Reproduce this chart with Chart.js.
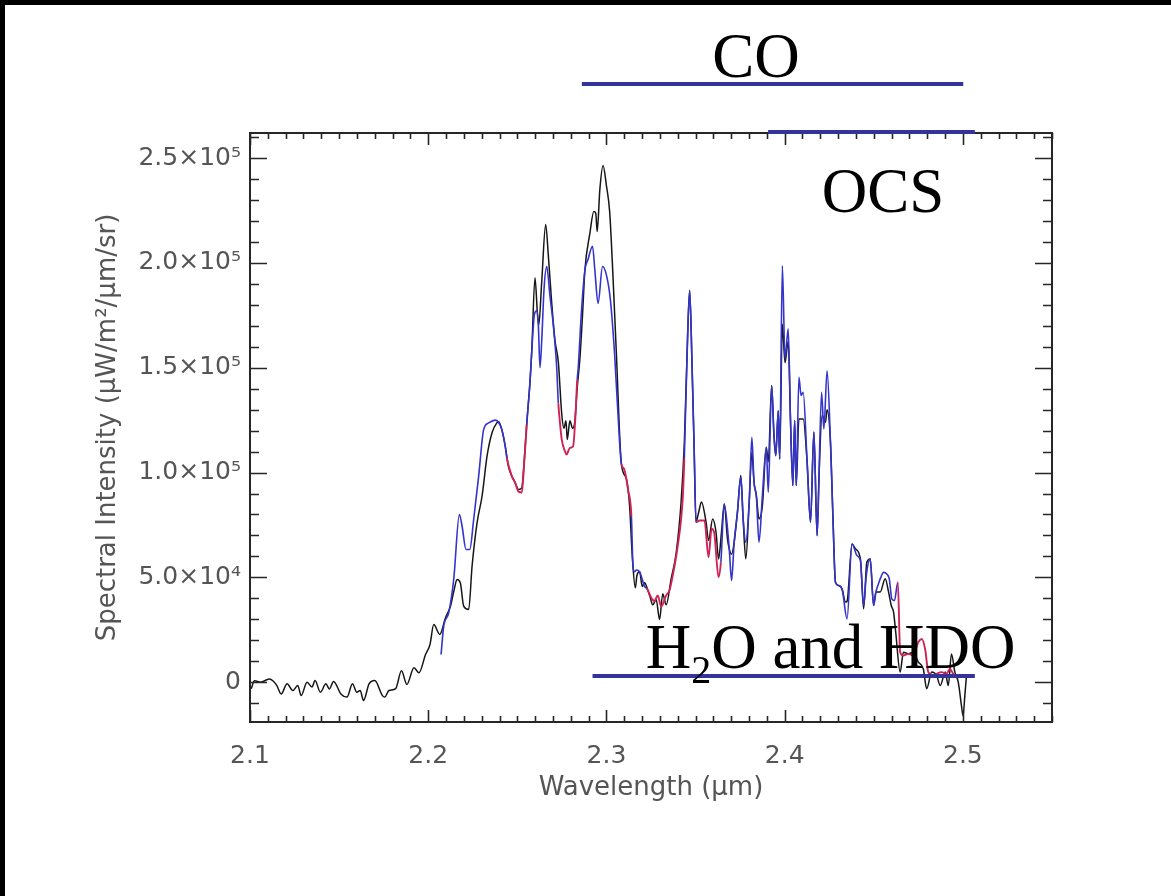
<!DOCTYPE html>
<html>
<head>
<meta charset="utf-8">
<script src="https://cdn.jsdelivr.net/npm/chart.js@4.4.1/dist/chart.umd.min.js"></script>
<style>
  html, body { margin: 0; padding: 0; background: #ffffff; }
  #wrap { width: 1171px; height: 896px; position: relative; }
</style>
</head>
<body>
<div id="wrap"><canvas id="spectrum" width="1171" height="896"></canvas></div>
<script>
// Observed spectrum: wavelength (µm) and spectral intensity (µW/m²/µm/sr)
const obsWavelength = [
  2.1007, 2.1025, 2.1060, 2.1082, 2.1110, 2.1128, 2.1150, 2.1175, 2.1208, 2.1240,
  2.1268, 2.1287, 2.1320, 2.1348, 2.1365, 2.1395, 2.1426, 2.1445, 2.1469, 2.1510,
  2.1544, 2.1575, 2.1599, 2.1618, 2.1637, 2.1668, 2.1700, 2.1743, 2.1756, 2.1780,
  2.1817, 2.1850, 2.1880, 2.1920, 2.1948, 2.1985, 2.2010, 2.2031, 2.2065, 2.2097,
  2.2125, 2.2145, 2.2162, 2.2180, 2.2199, 2.2227, 2.2246, 2.2274, 2.2302, 2.2330,
  2.2358, 2.2385, 2.2395, 2.2413, 2.2432, 2.2450, 2.2469, 2.2488, 2.2506, 2.2525,
  2.2538, 2.2553, 2.2572, 2.2581, 2.2599, 2.2613, 2.2620, 2.2637, 2.2659, 2.2674,
  2.2693, 2.2711, 2.2730, 2.2749, 2.2761, 2.2773, 2.2780, 2.2795, 2.2810, 2.2823,
  2.2836, 2.2851, 2.2866, 2.2879, 2.2907, 2.2929, 2.2940, 2.2948, 2.2963, 2.2981,
  2.3000, 2.3018, 2.3037, 2.3056, 2.3084, 2.3112, 2.3130, 2.3145, 2.3162, 2.3171,
  2.3186, 2.3201, 2.3214, 2.3232, 2.3245, 2.3260, 2.3279, 2.3298, 2.3316, 2.3335,
  2.3363, 2.3391, 2.3419, 2.3437, 2.3456, 2.3467, 2.3480, 2.3492, 2.3502, 2.3518,
  2.3533, 2.3559, 2.3573, 2.3596, 2.3615, 2.3629, 2.3645, 2.3661, 2.3679, 2.3689,
  2.3702, 2.3717, 2.3735, 2.3754, 2.3767, 2.3782, 2.3801, 2.3816, 2.3828, 2.3841,
  2.3856, 2.3875, 2.3897, 2.3908, 2.3927, 2.3940, 2.3950, 2.3964, 2.3972, 2.3987,
  2.4002, 2.4020, 2.4033, 2.4046, 2.4056, 2.4065, 2.4080, 2.4104, 2.4126, 2.4145,
  2.4164, 2.4182, 2.4192, 2.4210, 2.4229, 2.4238, 2.4257, 2.4270, 2.4285, 2.4303,
  2.4322, 2.4341, 2.4350, 2.4378, 2.4397, 2.4425, 2.4443, 2.4461, 2.4480, 2.4499,
  2.4512, 2.4536, 2.4564, 2.4583, 2.4598, 2.4611, 2.4623, 2.4648, 2.4666, 2.4694,
  2.4722, 2.4750, 2.4778, 2.4797, 2.4825, 2.4853, 2.4873, 2.4901, 2.4918, 2.4936,
  2.4955, 2.4974, 2.4992, 2.5001, 2.5011, 2.5020
];
const obsIntensity = [
  -3100, 700, 0, 700, 1500, 700, -1500, -5600, -800, -4000,
  -1600, -6400, 0, -2300, 800, -4800, -800, -3200, 300, -5600,
  -7100, -800, -4800, -4000, -8700, -800, 800, -6400, -7100, -4000,
  -3100, 5400, -1100, 6900, 4500, 13200, 18000, 27500, 22800, 30700,
  36300, 44000, 49000, 47400, 36300, 34700, 55300, 76000, 88700, 107800,
  119000, 123700, 124300, 120500, 112600, 103000, 98300, 95100, 91900, 92700,
  104700, 123700, 144400, 158000, 193000, 175500, 170200, 191200, 218400, 203500,
  180700, 163200, 152700, 128100, 121100, 124700, 115800, 124700, 121100, 124700,
  140400, 154400, 175500, 196500, 214100, 224500, 223700, 215000, 235100, 246500,
  236800, 224500, 193000, 156200, 104000, 97000, 84000, 60000, 45000, 50900,
  52700, 45700, 47400, 43900, 40600, 36900, 39500, 29900, 42200, 36900,
  49300, 61500, 86100, 114100, 166700, 186900, 152400, 111800, 76300, 81300,
  86000, 76300, 67600, 77900, 71500, 58800, 71100, 85000, 68400, 63600,
  61000, 67000, 81100, 98600, 77900, 58800, 85900, 109700, 95400, 89000,
  77900, 84200, 112100, 105000, 141500, 117700, 108100, 129500, 106500, 170700,
  152400, 162600, 124000, 93800, 124800, 93800, 125600, 125600, 105000, 76300,
  119300, 69900, 96900, 127200, 124000, 130000, 114500, 81100, 47700, 46100,
  44500, 38200, 38600, 65900, 63600, 58800, 35000, 57200, 58800, 36600,
  43000, 43000, 49300, 43000, 36600, 33400, 23900, 4800, 14300, 13500,
  14300, 9600, 6300, -3100, 4800, 3100, -1600, 4800, -1600, 13500,
  4800, 0, -11200, -16000, -6400, 3100
];

// Model spectrum on its own wavelength grid
const modelWavelength = [
  2.2072, 2.2087, 2.2115, 2.2143, 2.2175, 2.2190, 2.2212, 2.2233, 2.2255, 2.2283,
  2.2311, 2.2339, 2.2376, 2.2394, 2.2413, 2.2432, 2.2441, 2.2469, 2.2488, 2.2506,
  2.2525, 2.2538, 2.2553, 2.2572, 2.2581, 2.2596, 2.2609, 2.2618, 2.2627, 2.2637,
  2.2650, 2.2665, 2.2683, 2.2702, 2.2721, 2.2730, 2.2739, 2.2749, 2.2767, 2.2776,
  2.2795, 2.2813, 2.2827, 2.2836, 2.2841, 2.2860, 2.2879, 2.2897, 2.2922, 2.2935,
  2.2953, 2.2978, 2.3000, 2.3022, 2.3046, 2.3074, 2.3084, 2.3100, 2.3121, 2.3140,
  2.3149, 2.3158, 2.3168, 2.3186, 2.3214, 2.3226, 2.3232, 2.3251, 2.3269, 2.3288,
  2.3307, 2.3335, 2.3354, 2.3372, 2.3400, 2.3428, 2.3437, 2.3456, 2.3467, 2.3480,
  2.3492, 2.3503, 2.3522, 2.3550, 2.3573, 2.3590, 2.3605, 2.3629, 2.3642, 2.3661,
  2.3689, 2.3702, 2.3717, 2.3735, 2.3754, 2.3767, 2.3782, 2.3801, 2.3816, 2.3828,
  2.3841, 2.3856, 2.3875, 2.3897, 2.3908, 2.3927, 2.3940, 2.3950, 2.3964, 2.3972,
  2.3987, 2.4002, 2.4020, 2.4033, 2.4046, 2.4056, 2.4065, 2.4080, 2.4092, 2.4104,
  2.4126, 2.4145, 2.4164, 2.4182, 2.4207, 2.4220, 2.4238, 2.4257, 2.4270, 2.4285,
  2.4303, 2.4322, 2.4350, 2.4378, 2.4406, 2.4425, 2.4443, 2.4458, 2.4480, 2.4499,
  2.4512, 2.4523, 2.4536, 2.4555, 2.4573, 2.4587, 2.4601, 2.4616, 2.4635, 2.4648,
  2.4666, 2.4694, 2.4722, 2.4750, 2.4769, 2.4788, 2.4806, 2.4834, 2.4853, 2.4880,
  2.4908, 2.4927, 2.4946, 2.4974, 2.5011
];
const modelIntensity = [
  13200, 26700, 33100, 49000, 80000, 74400, 63300, 63300, 77600, 98300,
  120500, 123700, 125000, 124000, 120500, 112600, 107000, 98300, 95100, 91000,
  90500, 104000, 123000, 144400, 158000, 175500, 177200, 170200, 150000, 163200,
  187800, 198300, 184300, 170200, 150000, 133000, 124000, 115800, 110200, 108600,
  111800, 112600, 128500, 144400, 149100, 177200, 196500, 201800, 208000, 196500,
  180700, 198300, 194200, 182500, 156200, 114100, 104000, 101500, 91900, 79200,
  55300, 52700, 53500, 52700, 45700, 44700, 43900, 40400, 38700, 41400,
  36100, 41400, 43900, 50900, 65000, 87800, 106700, 166700, 186900, 152400,
  111800, 76300, 77100, 77100, 59600, 73200, 71100, 50100, 57200, 85000,
  63600, 48500, 67000, 81100, 97700, 77900, 66800, 85900, 116800, 95400,
  89000, 66800, 89000, 112100, 90600, 141500, 117700, 108100, 129500, 106500,
  198700, 154200, 168600, 124000, 93800, 124800, 93800, 145500, 136800, 138300,
  105000, 76300, 119300, 69900, 138300, 120800, 148600, 114500, 81100, 47700,
  46100, 44500, 30200, 65900, 60400, 58000, 36600, 50900, 58800, 36600,
  43000, 46100, 49300, 52400, 51600, 49300, 39700, 38900, 47700, 14300,
  12700, 13500, 12700, 19100, 20600, 15800, 4800, 3100, 4000, 4800,
  4000, 6300, 4000, 2300, 3100
];

// Wavelength windows (µm) where the model is shown in red
const fitWindowStart = [2.2441, 2.2730, 2.3084, 2.3226, 2.3503, 2.4635];
const fitWindowEnd   = [2.2553, 2.2836, 2.3140, 2.3437, 2.3642, 2.5011];

// Molecular band labels and the wavelength span each covers
const bandNames = ['CO', 'OCS', 'H₂O and HDO'];
const bandStart = [2.2862, 2.3907, 2.2922];
const bandEnd   = [2.5002, 2.5067, 2.5067];

// Axis ranges, labelled ticks and minor tick spacing
const xMin = 2.1, xMax = 2.55;
const yMin = -19000, yMax = 262000;
const xTickValues = [2.1, 2.2, 2.3, 2.4, 2.5];
const yTickValues = [0, 50000, 100000, 150000, 200000, 250000];
const xMinorStep = 0.01, yMinorStep = 10000;

const SUP = { '0': '⁰', '1': '¹', '2': '²', '3': '³', '4': '⁴', '5': '⁵', '6': '⁶', '7': '⁷', '8': '⁸', '9': '⁹', '-': '⁻' };
function sciLabel(v) {
  if (Math.abs(v) < 1e-9) return '0';
  const e = Math.floor(Math.log10(Math.abs(v)) + 1e-9);
  const m = v / Math.pow(10, e);
  return m.toFixed(1) + '×10' + String(e).split('').map(c => SUP[c]).join('');
}

function inFitWindow(a, b) {
  for (let i = 0; i < fitWindowStart.length; i++) {
    if (a >= fitWindowStart[i] - 1e-6 && b <= fitWindowEnd[i] + 1e-6) return true;
  }
  return false;
}

const AXIS_FONT = 'DejaVu Sans';
const TEXT_GRAY = '#555555';
const BAND_BLUE = '#333399';

// Slide edges, plot frame with inward ticks on all four sides
const framePlugin = {
  id: 'frame',
  beforeDraw(chart) {
    const { ctx, width, height } = chart;
    ctx.save();
    ctx.fillStyle = '#ffffff';
    ctx.fillRect(0, 0, width, height);
    ctx.fillStyle = '#000000';
    ctx.fillRect(0, 0, width, 5);
    ctx.fillRect(0, 0, 5, height);
    ctx.restore();
  },
  afterDraw(chart) {
    const { ctx, chartArea: a, scales: { x, y } } = chart;
    ctx.save();
    ctx.strokeStyle = '#262626';
    ctx.lineWidth = 1.6;
    ctx.beginPath();
    const isMajor = (v, list) => list.some(t => Math.abs(t - v) < 1e-6);
    const nx = Math.round((xMax - xMin) / xMinorStep);
    for (let k = 0; k <= nx; k++) {
      const v = xMin + k * xMinorStep;
      const px = Math.round(x.getPixelForValue(v)) + 0.5;
      const len = isMajor(v, xTickValues) ? 12 : 6;
      ctx.moveTo(px, a.bottom); ctx.lineTo(px, a.bottom - len);
      ctx.moveTo(px, a.top); ctx.lineTo(px, a.top + len);
    }
    const first = Math.ceil(yMin / yMinorStep) * yMinorStep;
    for (let v = first; v <= yMax; v += yMinorStep) {
      const py = Math.round(y.getPixelForValue(v)) + 0.5;
      const len = isMajor(v, yTickValues) ? 17 : 9;
      ctx.moveTo(a.left, py); ctx.lineTo(a.left + len, py);
      ctx.moveTo(a.right, py); ctx.lineTo(a.right - len, py);
    }
    ctx.stroke();
    ctx.lineWidth = 2;
    ctx.strokeRect(a.left, a.top, a.right - a.left, a.bottom - a.top);
    ctx.restore();
  }
};

// Band bars with their molecule names
const bandPlugin = {
  id: 'bands',
  afterDraw(chart) {
    const { ctx, chartArea: a, scales: { x } } = chart;
    const lineY = [a.top - 49, a.top - 1, a.bottom - 46];
    const textX = [2.3594, 2.4208, 2.3220];
    const textY = [a.top - 56, a.top + 79, a.bottom - 54];
    ctx.save();
    ctx.strokeStyle = BAND_BLUE;
    ctx.lineWidth = 4;
    ctx.lineCap = 'butt';
    for (let i = 0; i < bandNames.length; i++) {
      ctx.beginPath();
      ctx.moveTo(x.getPixelForValue(bandStart[i]), lineY[i]);
      ctx.lineTo(x.getPixelForValue(bandEnd[i]), lineY[i]);
      ctx.stroke();
    }
    ctx.fillStyle = '#000000';
    ctx.textBaseline = 'alphabetic';
    ctx.textAlign = 'left';
    const mainFont = '63px "Liberation Serif"';
    const subFont = '40px "Liberation Serif"';
    for (let i = 0; i < bandNames.length; i++) {
      let px = x.getPixelForValue(textX[i]);
      const name = bandNames[i];
      const subIdx = name.indexOf('₂');
      if (subIdx < 0) {
        ctx.font = mainFont;
        ctx.fillText(name, px, textY[i]);
      } else {
        const head = name.slice(0, subIdx), tail = name.slice(subIdx + 1);
        ctx.font = mainFont;
        ctx.fillText(head, px, textY[i]);
        px += ctx.measureText(head).width;
        ctx.font = subFont;
        ctx.fillText('2', px, textY[i] + 15);
        px += ctx.measureText('2').width;
        ctx.font = mainFont;
        ctx.fillText(tail, px, textY[i]);
      }
    }
    ctx.restore();
  }
};

const observed = obsWavelength.map((w, i) => ({ x: w, y: obsIntensity[i] }));
const model = modelWavelength.map((w, i) => ({ x: w, y: modelIntensity[i] }));

new Chart(document.getElementById('spectrum'), {
  type: 'line',
  data: {
    datasets: [
      {
        label: 'Observed',
        data: observed,
        borderColor: '#161616',
        borderWidth: 1.5,
        pointRadius: 0,
        cubicInterpolationMode: 'monotone',
        fill: false,
        order: 2
      },
      {
        label: 'Model',
        data: model,
        borderColor: '#3434cc',
        borderWidth: 1.6,
        pointRadius: 0,
        cubicInterpolationMode: 'monotone',
        fill: false,
        order: 1,
        segment: {
          borderColor: c => inFitWindow(c.p0.parsed.x, c.p1.parsed.x) ? '#cf2356' : undefined,
          borderWidth: c => inFitWindow(c.p0.parsed.x, c.p1.parsed.x) ? 1.9 : undefined
        }
      }
    ]
  },
  options: {
    responsive: false,
    animation: false,
    events: [],
    layout: { padding: { left: 0, top: 133, right: 119, bottom: 74 } },
    plugins: { legend: { display: false }, tooltip: { enabled: false } },
    scales: {
      x: {
        type: 'linear',
        min: xMin,
        max: xMax,
        grid: { display: false, drawTicks: false },
        border: { display: false },
        afterBuildTicks: s => { s.ticks = xTickValues.map(v => ({ value: v })); },
        ticks: {
          maxRotation: 0,
          autoSkip: false,
          padding: 19,
          color: TEXT_GRAY,
          font: { family: AXIS_FONT, size: 25 },
          callback: v => Number(v).toFixed(1)
        },
        title: {
          display: true,
          text: 'Wavelength (μm)',
          color: TEXT_GRAY,
          font: { family: AXIS_FONT, size: 26 },
          padding: { top: 0, bottom: 18 }
        },
        afterFit: s => { s.height = 100; }
      },
      y: {
        type: 'linear',
        min: yMin,
        max: yMax,
        grid: { display: false, drawTicks: false },
        border: { display: false },
        afterBuildTicks: s => { s.ticks = yTickValues.map(v => ({ value: v })); },
        ticks: {
          autoSkip: false,
          padding: 9,
          color: TEXT_GRAY,
          font: { family: AXIS_FONT, size: 25 },
          callback: v => sciLabel(v)
        },
        title: {
          display: true,
          text: 'Spectral Intensity (μW/m²/μm/sr)',
          color: TEXT_GRAY,
          font: { family: AXIS_FONT, size: 26 },
          padding: { top: 93, bottom: 0 }
        },
        afterFit: s => { s.width = 250; }
      }
    }
  },
  plugins: [framePlugin, bandPlugin]
});
</script>
</body>
</html>
